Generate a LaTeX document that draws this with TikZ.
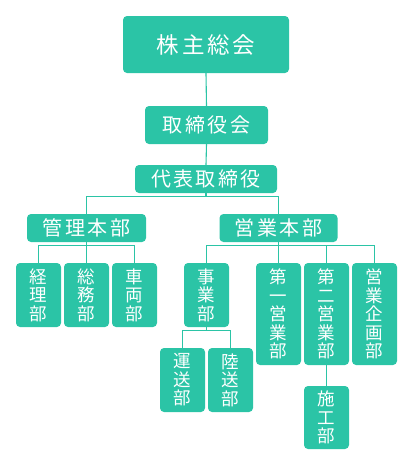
\documentclass[tikz,border=0pt]{standalone}
\usepackage{fontspec}
\newfontfamily\jp{Noto Sans CJK JP}
\newfontfamily\jpls[LetterSpace=12]{Noto Sans CJK JP}
\definecolor{tl}{HTML}{2BC4A6}
\begin{document}
\begin{tikzpicture}[x=1pt,y=-1pt,
 box/.style={fill=tl, rounded corners=4pt, inner sep=0pt, text=white, align=center},
 hbox/.style={box, font=\jpls\fontsize{20}{20}\selectfont},
 bigbox/.style={box, font=\jpls\fontsize{22.5}{22.5}\selectfont},
 vbox/.style={box, font=\jp\fontsize{17.5}{18.5}\selectfont, minimum width=45pt},
 ln/.style={draw=tl, line width=1.1pt}]
\useasboundingbox (0,0) rectangle (413,466);
\node[bigbox, minimum width=166pt, minimum height=57pt] (soukai) at (206,44.5) {株主総会};
\node[hbox, minimum width=123pt, minimum height=38pt] (torikai) at (206.5,125) {取締役会};
\node[hbox, minimum width=142pt, minimum height=28pt] (daihyo) at (206,179) {代表取締役};
\node[hbox, minimum width=119pt, minimum height=28pt] (kanri) at (86.5,228) {管理本部};
\node[hbox, minimum width=118pt, minimum height=28pt] (eigyo) at (278.5,228) {営業本部};
\node[vbox, minimum height=64pt] (keiri) at (38.5,295) {経\\理\\部};
\node[vbox, minimum height=64pt] (soumu) at (86.5,295) {総\\務\\部};
\node[vbox, minimum height=64pt] (sharyo) at (134.5,295) {車\\両\\部};
\node[vbox, minimum height=64pt] (jigyo) at (206.5,295) {事\\業\\部};
\node[vbox, minimum height=102pt] (dai1) at (278.5,314) {第\\一\\営\\業\\部};
\node[vbox, minimum height=102pt] (dai2) at (326.5,314) {第\\二\\営\\業\\部};
\node[vbox, minimum height=102pt] (kikaku) at (374.5,314) {営\\業\\企\\画\\部};
\node[vbox, minimum height=64pt] (unso) at (182.5,380) {運\\送\\部};
\node[vbox, minimum height=64pt] (rikuso) at (230.5,380) {陸\\送\\部};
\node[vbox, minimum height=63pt] (seko) at (326.5,417.5) {施\\工\\部};
\coordinate (j1) at (206,196.5);
\coordinate (k1) at (86.5,245.5);
\coordinate (e1) at (278.5,245.5);
\coordinate (j2) at (206.5,330.5);
\draw[ln] (soukai.south) -- (torikai.north);
\draw[ln] (torikai.south) -- (daihyo.north);
\draw[ln] (daihyo.south) -- (j1);
\draw[ln] (kanri.north) |- (j1) -| (eigyo.north);
\draw[ln] (kanri.south) -- (k1);
\draw[ln] (keiri.north) |- (k1) -| (sharyo.north);
\draw[ln] (soumu.north) -- (k1);
\draw[ln] (eigyo.south) -- (dai1.north);
\draw[ln] (jigyo.north) |- (e1) -| (kikaku.north);
\draw[ln] (dai2.north) |- (e1);
\draw[ln] (jigyo.south) -- (j2);
\draw[ln] (unso.north) |- (j2) -| (rikuso.north);
\draw[ln] (dai2.south) -- (seko.north);
\end{tikzpicture}
\end{document}
